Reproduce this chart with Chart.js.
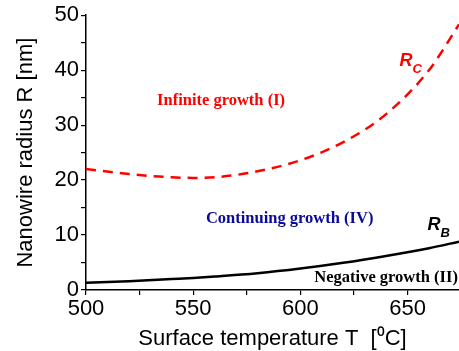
<!DOCTYPE html>
<html>
<head>
<meta charset="utf-8">
<script src="https://cdn.jsdelivr.net/npm/chart.js@4"></script>
<style>
  html, body { margin: 0; padding: 0; background: #fff; }
  #wrap { width: 459px; height: 351px; }
</style>
</head>
<body>
<div id="wrap"><canvas id="chart"></canvas></div>
<script>
// Temperature samples [°C] and read-off radii [nm]
const temperatures = [500, 520, 540, 550, 560, 580, 600, 620, 640, 660, 674];
const rCritical = [22.0, 21.1, 20.5, 20.4, 20.5, 21.6, 23.6, 26.9, 32.0, 40.0, 48.3];
const rBoundary = [1.3, 1.6, 2.0, 2.2, 2.45, 3.05, 3.9, 4.95, 6.2, 7.6, 8.8];

// Region labels and where they sit (data coords)
const regionLabels = ['Infinite growth (I)', 'Continuing growth (IV)', 'Negative growth (II)'];
const regionT = [563, 595, 640];
const regionR = [34.5, 12.9, 2.3];
const regionColors = ['#ff0000', '#0a0a9a', '#000000'];

// Curve names: main letter + subscript, anchored at (T, R)
const curveNames = [['R', 'C'], ['R', 'B']];
const curveNameT = [646.3, 659.3];
const curveNameR = [40.7, 10.9];
const curveNameColors = ['#ff0000', '#000000'];

const annotations = {
  id: 'annotations',
  afterDatasetsDraw(chart) {
    const { ctx, scales: { x, y } } = chart;
    ctx.save();
    ctx.textAlign = 'center';
    ctx.textBaseline = 'middle';
    ctx.font = 'bold 16.5px "Liberation Serif", "Times New Roman", serif';
    regionLabels.forEach((txt, i) => {
      ctx.fillStyle = regionColors[i];
      ctx.fillText(txt, x.getPixelForValue(regionT[i]), y.getPixelForValue(regionR[i]));
    });
    ctx.textAlign = 'left';
    ctx.textBaseline = 'alphabetic';
    curveNames.forEach((parts, i) => {
      const px = x.getPixelForValue(curveNameT[i]);
      const py = y.getPixelForValue(curveNameR[i]);
      ctx.fillStyle = curveNameColors[i];
      ctx.font = 'italic bold 18px "Liberation Sans", Arial, sans-serif';
      ctx.fillText(parts[0], px, py);
      const w = ctx.measureText(parts[0]).width;
      ctx.font = 'italic bold 13px "Liberation Sans", Arial, sans-serif';
      ctx.fillText(parts[1], px + w, py + 7);
    });
    ctx.restore();
  }
};

const tickFont = { family: '"Liberation Sans", Arial, sans-serif', size: 22 };
const titleFont = { family: '"Liberation Sans", Arial, sans-serif', size: 22, lineHeight: 1 };

new Chart(document.getElementById('chart'), {
  type: 'line',
  data: {
    labels: temperatures,
    datasets: [
      {
        label: 'RC',
        data: temperatures.map((t, i) => ({ x: t, y: rCritical[i] })),
        borderColor: '#ff0000',
        borderWidth: 2.5,
        borderDash: [10, 7],
        pointRadius: 0,
        cubicInterpolationMode: 'monotone',
        fill: false
      },
      {
        label: 'RB',
        data: temperatures.map((t, i) => ({ x: t, y: rBoundary[i] })),
        borderColor: '#000000',
        borderWidth: 2.5,
        pointRadius: 0,
        cubicInterpolationMode: 'monotone',
        fill: false
      }
    ]
  },
  options: {
    responsive: true,
    maintainAspectRatio: false,
    animation: false,
    layout: { padding: { top: 10, right: 0, left: 0, bottom: 0 } },
    plugins: {
      legend: { display: false },
      tooltip: { enabled: false }
    },
    scales: {
      x: {
        type: 'linear',
        min: 500,
        max: 674,
        border: { color: '#000', width: 1.5 },
        grid: { drawOnChartArea: false, color: '#000', tickLength: 5, lineWidth: 1.2 },
        ticks: {
          stepSize: 25,
          includeBounds: false,
          maxRotation: 0,
          autoSkip: false,
          padding: 1,
          color: '#000',
          font: tickFont,
          callback: v => (v % 50 === 0 ? String(v) : '')
        },
        title: {
          display: true,
          text: 'Surface temperature T  [\u2070C]',
          color: '#000',
          font: titleFont,
          padding: { top: 0, bottom: 1 }
        },
        afterFit: s => { s.height = 61; }
      },
      y: {
        min: 0,
        max: 50,
        border: { color: '#000', width: 1.5 },
        grid: { drawOnChartArea: false, color: '#000', tickLength: 5, lineWidth: 1.2 },
        ticks: {
          stepSize: 5,
          autoSkip: false,
          padding: 2,
          color: '#000',
          font: tickFont,
          callback: v => (v % 10 === 0 ? String(v) : '')
        },
        title: {
          display: true,
          text: 'Nanowire radius R [nm]',
          color: '#000',
          font: titleFont,
          padding: { top: 15, bottom: 0 }
        },
        afterFit: s => { s.width = 86; }
      }
    }
  },
  plugins: [annotations]
});
</script>
</body>
</html>
